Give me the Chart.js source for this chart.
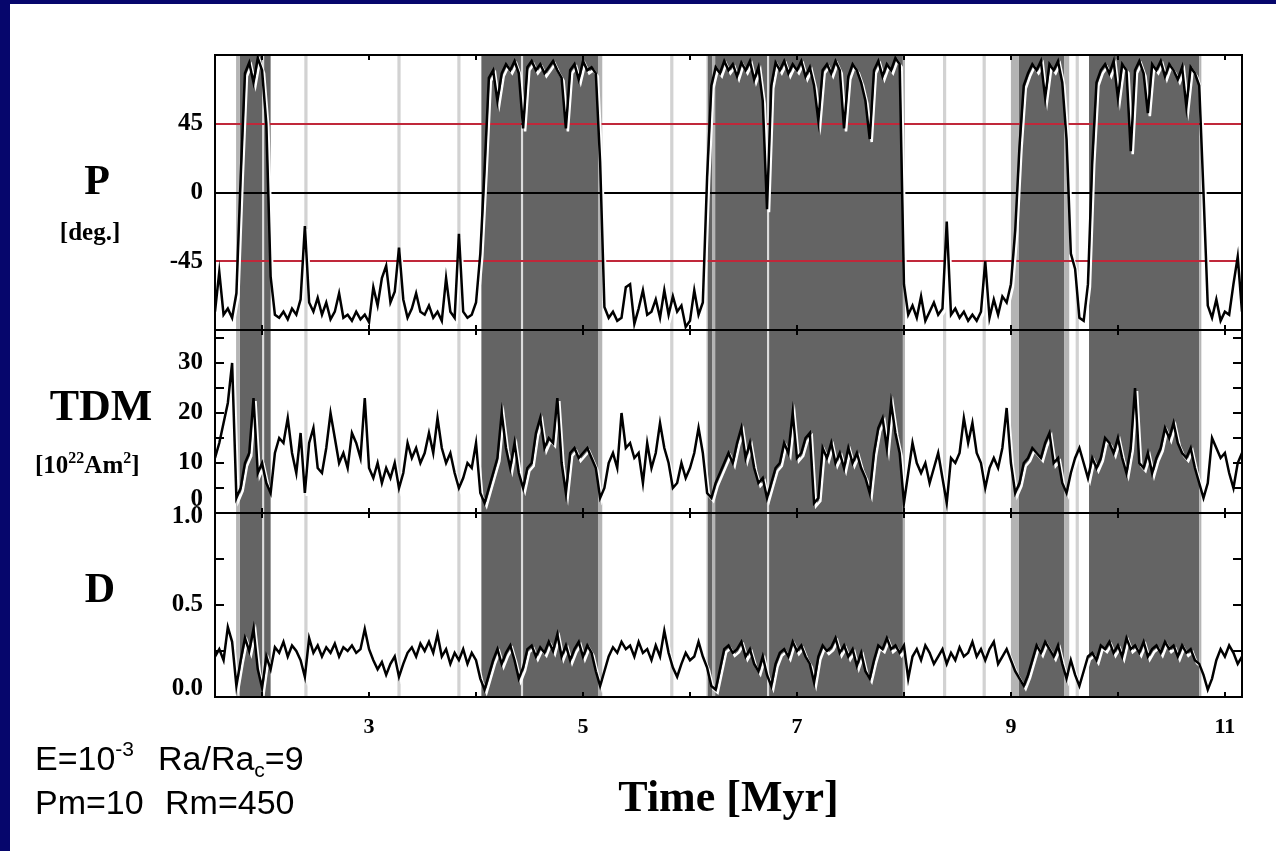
<!DOCTYPE html>
<html>
<head>
<meta charset="utf-8">
<script src="https://cdn.jsdelivr.net/npm/chart.js@4/dist/chart.umd.min.js"></script>
<style>
html,body{margin:0;padding:0;background:#fff;}
canvas{display:block;}
</style>
</head>
<body>
<canvas id="c" width="1276" height="851"></canvas>
<script>
// ---- sampling of the time series (Myr) ----
const T0 = 1.56;
const DT = 0.04;

// ---- P : VGP latitude [deg.] ----
const P = [
-78,-52,-80,-76,-82,-66,10,78,85,72,
88,80,45,-55,-80,-82,-78,-83,-76,-80,
-70,-22,-72,-78,-69,-80,-72,-83,-78,-66,
-82,-80,-84,-78,-83,-80,-85,-62,-74,-56,
-48,-72,-65,-36,-70,-82,-76,-66,-78,-80,
-74,-82,-78,-84,-56,-78,-82,-27,-78,-82,
-80,-72,-40,15,75,80,60,78,84,80,
86,78,42,82,86,80,84,78,82,86,
80,75,42,80,84,74,86,80,82,78,
20,-75,-82,-78,-84,-82,-62,-60,-86,-76,
-64,-80,-78,-70,-82,-64,-80,-68,-78,-74,
-88,-84,-64,-80,-72,10,70,82,78,86,
80,84,76,85,80,86,74,82,60,-11,
70,85,80,86,78,84,80,86,76,82,
70,47,80,84,78,86,80,42,76,84,
80,72,60,35,80,86,76,84,80,88,
84,-60,-80,-74,-82,-68,-84,-78,-72,-80,
-76,-19,-80,-76,-82,-78,-84,-80,-84,-78,
-45,-82,-70,-80,-68,-72,-60,-25,30,70,
78,84,80,86,62,84,80,86,72,35,
-40,-50,-82,-84,-60,20,72,80,84,78,
86,62,84,80,27,80,86,78,52,84,
80,86,76,84,80,74,82,56,82,78,
70,0,-74,-82,-70,-84,-78,-80,-60,-42,
-78
];

// ---- TDM [10^22 Am^2] ----
const TDM = [
11,14,18,22,30,3,5,10,12,23,
8,10,6,4,12,15,14,19,12,8,
16,4,14,17,9,8,13,20,15,10,
12,9,16,14,11,23,9,7,10,6,
9,7,10,5,8,14,11,13,10,12,
16,12,19,13,10,12,8,5,7,10,
9,14,4,2,5,8,11,20,13,9,
14,8,5,9,10,16,19,13,15,14,
23,10,4,12,13,11,12,13,11,9,
3,5,10,12,9,20,13,14,11,12,
6,14,9,12,18,13,10,5,6,10,
7,9,12,17,12,4,3,6,8,10,
12,10,14,17,11,14,9,6,7,3,
6,9,10,14,12,20,11,12,15,16,
2,3,13,11,14,10,12,9,13,10,
12,9,7,4,12,17,19,13,22,16,
12,2,8,14,10,8,10,6,9,12,
7,2,11,10,12,19,14,18,12,10,
5,9,11,9,13,21,10,4,6,10,
11,13,12,11,14,16,10,11,6,4,
8,11,13,10,7,11,9,11,15,14,
12,15,11,8,13,25,10,9,12,8,
11,13,17,15,18,14,12,11,13,9,
6,3,6,15,13,11,12,8,5,10,
12
];

// ---- D : dipolarity ----
const D = [
0.22,0.26,0.20,0.38,0.30,0.06,0.20,0.32,0.25,0.37,
0.15,0.05,0.22,0.15,0.27,0.24,0.30,0.22,0.28,0.25,
0.20,0.11,0.32,0.24,0.28,0.22,0.27,0.24,0.29,0.22,
0.27,0.25,0.28,0.24,0.26,0.37,0.26,0.20,0.15,0.19,
0.12,0.18,0.22,0.11,0.18,0.24,0.27,0.22,0.29,0.25,
0.30,0.24,0.34,0.22,0.26,0.18,0.24,0.20,0.26,0.18,
0.24,0.20,0.10,0.04,0.12,0.20,0.26,0.18,0.24,0.28,
0.20,0.10,0.16,0.26,0.28,0.22,0.27,0.24,0.30,0.25,
0.34,0.22,0.28,0.20,0.26,0.30,0.22,0.28,0.24,0.14,
0.06,0.14,0.22,0.27,0.24,0.30,0.26,0.28,0.22,0.30,
0.24,0.26,0.20,0.28,0.22,0.36,0.24,0.16,0.11,0.18,
0.24,0.20,0.22,0.30,0.22,0.16,0.06,0.04,0.15,0.26,
0.28,0.24,0.26,0.30,0.22,0.26,0.18,0.14,0.22,0.12,
0.06,0.18,0.24,0.26,0.22,0.30,0.25,0.28,0.22,0.18,
0.08,0.22,0.28,0.25,0.27,0.32,0.24,0.28,0.22,0.26,
0.17,0.24,0.14,0.10,0.20,0.28,0.26,0.32,0.26,0.28,
0.24,0.28,0.10,0.22,0.26,0.20,0.28,0.24,0.18,0.22,
0.26,0.18,0.24,0.20,0.27,0.22,0.24,0.30,0.22,0.26,
0.20,0.26,0.30,0.18,0.22,0.26,0.20,0.14,0.10,0.06,
0.12,0.20,0.28,0.24,0.30,0.26,0.22,0.28,0.18,0.10,
0.20,0.12,0.06,0.14,0.22,0.24,0.20,0.28,0.26,0.30,
0.24,0.28,0.22,0.32,0.26,0.28,0.24,0.30,0.22,0.26,
0.28,0.24,0.30,0.26,0.28,0.22,0.28,0.24,0.26,0.20,
0.18,0.12,0.04,0.10,0.20,0.26,0.22,0.28,0.24,0.18,
0.22
];

// ---- polarity chrons (Myr) ----
const normalStart = [1.79, 4.05, 6.165, 6.235, 9.075, 9.73];
const normalEnd   = [2.08, 5.14, 6.21, 7.99, 9.50, 10.76];
const transitStart = [1.757, 5.14, 6.155, 6.21, 7.99, 9.00, 9.50, 10.76];
const transitEnd   = [1.79, 5.18, 6.165, 6.235, 8.01, 9.075, 9.545, 10.78];
const excursions   = [2.41, 3.28, 3.84, 5.83, 8.38, 8.75, 9.62];
const chronSplits  = [2.01, 4.43, 6.73];

// ---- axes ----
const X_MIN = 1.56, X_MAX = 11.16;
const xTickValues = [2,3,4,5,6,7,8,9,10,11];
const xTickLabels = ['', '3', '', '5', '', '7', '', '9', '', '11'];
const pTickValues = [-45, 0, 45];
const pTickLabels = ['-45', '0', '45'];
const tdmTickValues = [0,5,10,15,20,25,30,35];
const tdmTickLabels = ['0','','10','','20','','30',''];
const dTickValues = [0,0.25,0.5,0.75,1];
const dTickLabels = ['0.0','','0.5','','1.0'];

const SERIF = '"Liberation Serif", "Times New Roman", serif';
const SANS = '"Liberation Sans", Arial, sans-serif';

const times = P.map((_, i) => Math.round((T0 + i * DT) * 1000) / 1000);
const pts = arr => arr.map((v, i) => ({x: times[i], y: v}));

const lookup = (vals, labs) => v => {
  const k = vals.findIndex(t => Math.abs(t - v) < 1e-9);
  return k < 0 ? '' : labs[k];
};
const xLab = lookup(xTickValues, xTickLabels);
const pLab = lookup(pTickValues, pTickLabels);
const tLab = lookup(tdmTickValues, tdmTickLabels);
const dLab = lookup(dTickValues, dTickLabels);

const backdrop = {
  id: 'backdrop',
  beforeDraw(chart) {
    const {ctx, chartArea: a, scales} = chart;
    const xs = scales.x;
    ctx.save();
    ctx.fillStyle = '#ffffff';
    ctx.fillRect(0, 0, chart.width, chart.height);
    ctx.fillStyle = '#06066c';
    ctx.fillRect(0, 0, 10, chart.height);
    ctx.fillRect(0, 0, chart.width, 4);
    const band = (s, e, col) => {
      const x0 = xs.getPixelForValue(s), x1 = xs.getPixelForValue(e);
      ctx.fillStyle = col;
      ctx.fillRect(x0, a.top, x1 - x0, a.bottom - a.top);
    };
    normalStart.forEach((s, i) => band(s, normalEnd[i], '#646464'));
    transitStart.forEach((s, i) => band(s, transitEnd[i], '#b4b4b4'));
    excursions.forEach(t => band(t - 0.015, t + 0.015, '#d2d2d2'));
    chronSplits.forEach(t => band(t - 0.01, t + 0.01, '#dcdcdc'));
    ctx.restore();
  }
};

const whiteShadow = {
  id: 'whiteShadow',
  beforeDatasetDraw(chart) {
    const c = chart.ctx;
    c.save();
    c.shadowColor = '#ffffff';
    c.shadowOffsetX = 2;
    c.shadowOffsetY = 3;
    c.shadowBlur = 0;
  },
  afterDatasetDraw(chart) { chart.ctx.restore(); }
};

const overlay = {
  id: 'overlay',
  afterDraw(chart) {
    const {ctx, chartArea: a, scales} = chart;
    const xs = scales.x, yP = scales.yP, yT = scales.yT, yD = scales.yD;
    ctx.save();
    ctx.strokeStyle = '#000';
    ctx.lineWidth = 2;
    ctx.strokeRect(a.left, a.top, a.right - a.left, a.bottom - a.top);
    [yT.top, yD.top].forEach(y => {
      ctx.beginPath(); ctx.moveTo(a.left, y); ctx.lineTo(a.right, y); ctx.stroke();
    });
    [yP, yT, yD].forEach(s => {
      xs.ticks.forEach(t => {
        const px = Math.round(xs.getPixelForValue(t.value));
        ctx.beginPath();
        ctx.moveTo(px, s.top); ctx.lineTo(px, s.top + 5);
        ctx.moveTo(px, s.bottom); ctx.lineTo(px, s.bottom - 5);
        ctx.stroke();
      });
    });
    [yT, yD].forEach(s => {
      s.ticks.forEach(t => {
        const py = Math.round(s.getPixelForValue(t.value));
        ctx.beginPath();
        ctx.moveTo(a.left, py); ctx.lineTo(a.left + 9, py);
        ctx.moveTo(a.right, py); ctx.lineTo(a.right - 9, py);
        ctx.stroke();
      });
    });

    // panel names
    ctx.fillStyle = '#000';
    ctx.textBaseline = 'alphabetic';
    ctx.textAlign = 'center';
    ctx.font = 'bold 42px ' + SERIF;
    ctx.fillText('P', 97, 194);
    ctx.fillText('D', 100, 602);
    ctx.font = 'bold 44px ' + SERIF;
    ctx.fillText('TDM', 101, 420);
    ctx.font = 'bold 25px ' + SERIF;
    ctx.fillText('[deg.]', 90, 240);

    // [10^22 Am^2]
    ctx.textAlign = 'left';
    let x = 35;
    const piece = (txt, size, dy) => {
      ctx.font = 'bold ' + size + 'px ' + SERIF;
      ctx.fillText(txt, x, 473 + dy);
      x += ctx.measureText(txt).width;
    };
    piece('[10', 25, 0); piece('22', 16, -10); piece('Am', 25, 0); piece('2', 16, -10); piece(']', 25, 0);

    // run parameters
    const run = (txt, size, dy, base) => {
      ctx.font = size + 'px ' + SANS;
      ctx.fillText(txt, x, base + dy);
      x += ctx.measureText(txt).width;
    };
    x = 35;
    run('E=10', 34, 0, 770); run('-3', 21, -14, 770);
    x = 158;
    run('Ra/Ra', 34, 0, 770); run('c', 21, 7, 770); run('=9', 34, 0, 770);
    x = 35;
    run('Pm=10', 34, 0, 814);
    x = 165;
    run('Rm=450', 34, 0, 814);
    ctx.restore();
  }
};

const tickFont = {family: SERIF, weight: 'bold', size: 25};

new Chart(document.getElementById('c'), {
  type: 'line',
  data: {
    datasets: [
      {data: pts(P), yAxisID: 'yP'},
      {data: pts(TDM), yAxisID: 'yT'},
      {data: pts(D), yAxisID: 'yD'}
    ]
  },
  options: {
    responsive: false,
    animation: false,
    devicePixelRatio: 1,
    layout: {padding: {left: 115, top: 55, right: 34, bottom: 0}},
    plugins: {legend: {display: false}, tooltip: {enabled: false}},
    elements: {
      point: {radius: 0},
      line: {borderWidth: 2.5, borderColor: '#000', tension: 0, fill: false}
    },
    scales: {
      x: {
        type: 'linear', position: 'bottom', min: X_MIN, max: X_MAX,
        afterBuildTicks: s => { s.ticks = xTickValues.map(v => ({value: v})); },
        afterFit: s => { s.height = 154; },
        grid: {display: false, drawTicks: false},
        border: {display: false},
        ticks: {autoSkip: false, maxRotation: 0, padding: 17, color: '#000',
                font: {family: SERIF, weight: 'bold', size: 22}, callback: v => xLab(v)},
        title: {display: true, text: 'Time [Myr]', color: '#000',
                font: {family: SERIF, weight: 'bold', size: 44}, padding: {top: 0, bottom: 25}}
      },
      yP: {
        type: 'linear', position: 'left', stack: 'panels', stackWeight: 275, weight: 3,
        min: -90, max: 90,
        afterBuildTicks: s => { s.ticks = pTickValues.map(v => ({value: v})); },
        afterFit: s => { s.width = 100; },
        grid: {drawTicks: false, lineWidth: 2,
               color: c => (c.tick && c.tick.value === 0) ? '#000000' : '#c0283a'},
        border: {display: false},
        ticks: {autoSkip: false, padding: 12, color: '#000', font: tickFont, callback: v => pLab(v)}
      },
      yT: {
        type: 'linear', position: 'left', stack: 'panels', stackWeight: 183, weight: 2,
        min: 0, max: 36.6,
        afterBuildTicks: s => { s.ticks = tdmTickValues.map(v => ({value: v})); },
        afterFit: s => { s.width = 100; },
        grid: {display: false, drawTicks: false},
        border: {display: false},
        ticks: {autoSkip: false, padding: 12, color: '#000',
                font: {family: SERIF, weight: 'bold', size: 25, lineHeight: '26px'},
                callback: v => { const l = tLab(v); return l === '0' ? ['0', ''] : l; }}
      },
      yD: {
        type: 'linear', position: 'left', stack: 'panels', stackWeight: 184, weight: 1,
        min: 0, max: 1,
        afterBuildTicks: s => { s.ticks = dTickValues.map(v => ({value: v})); },
        afterFit: s => { s.width = 100; },
        grid: {display: false, drawTicks: false},
        border: {display: false},
        ticks: {autoSkip: false, padding: 12, color: '#000',
                font: {family: SERIF, weight: 'bold', size: 25, lineHeight: '8px'},
                callback: v => { const l = dLab(v);
                  if (l === '0.0') return ['0.0', '', ''];
                  if (l === '1.0') return ['', '1.0'];
                  return l; }}
      }
    }
  },
  plugins: [backdrop, whiteShadow, overlay]
});
</script>
</body>
</html>
